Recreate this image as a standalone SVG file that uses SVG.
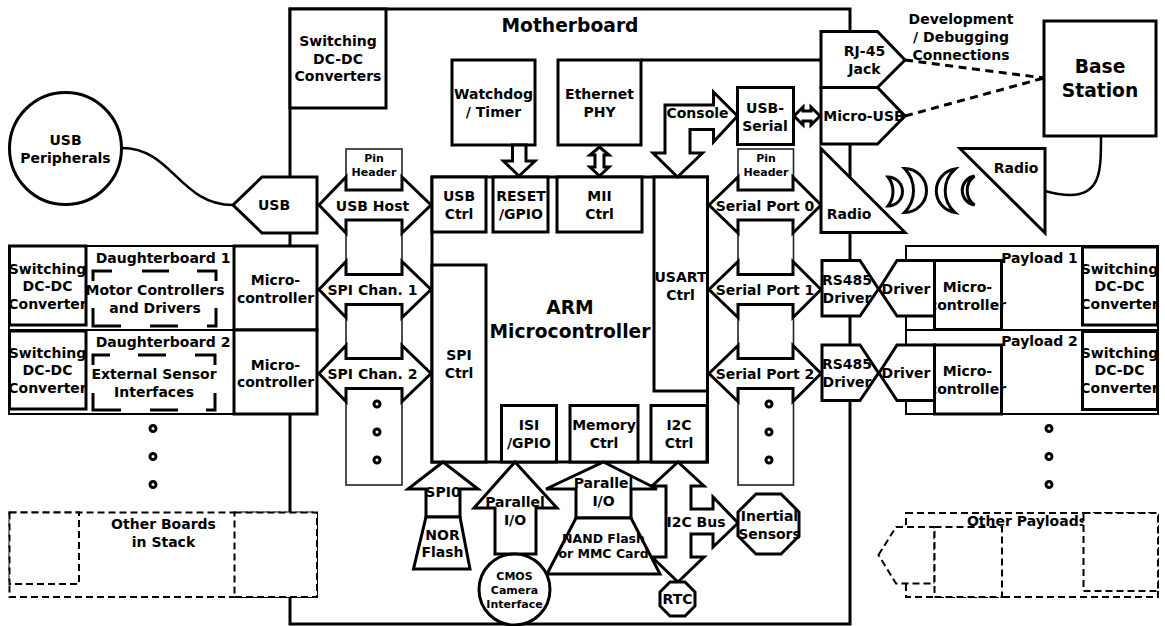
<svg xmlns="http://www.w3.org/2000/svg" width="1165" height="626" viewBox="0 0 1165 626">
<style>
text{font-family:"DejaVu Sans","Liberation Sans",sans-serif;font-weight:bold;font-size:14px;text-anchor:middle;fill:#000}
.s{font-size:11px}.l{font-size:18.7px}.m{font-size:12.5px}
.b{fill:#fff;stroke:#000;stroke-width:3}
.t{fill:#fff;stroke:#000;stroke-width:2}
.h{fill:#fff;stroke:#222;stroke-width:1.6}
.d{fill:#fff;stroke:#000;stroke-width:2;stroke-dasharray:7 4}
.n{fill:none;stroke:#000;stroke-width:3}
.c{fill:none;stroke:#000;stroke-width:2.5}
.dl{fill:none;stroke:#000;stroke-width:3;stroke-dasharray:8 5.5}
.dot{fill:#fff;stroke:#000;stroke-width:3}
</style>
<rect id="background" width="1165" height="626" fill="#fff"/>

<g id="motherboard">
  <rect class="b" x="290" y="9" width="560" height="615"/>
  <text class="l" x="570" y="32">Motherboard</text>
</g>
<g id="dcdc-main">
  <rect class="b" x="290" y="9" width="96" height="99"/>
  <text x="338"><tspan x="338" y="46">Switching</tspan><tspan x="338" y="63.5">DC-DC</tspan><tspan x="338" y="81">Converters</tspan></text>
</g>
<g id="watchdog">
  <rect class="b" x="452" y="60" width="83" height="85"/>
  <text><tspan x="493.5" y="99">Watchdog</tspan><tspan x="493.5" y="116.5">/ Timer</tspan></text>
</g>
<g id="ethernet-phy">
  <rect class="b" x="558" y="60" width="83" height="85"/>
  <text><tspan x="599.5" y="99">Ethernet</tspan><tspan x="599.5" y="116.5">PHY</tspan></text>
</g>

<g id="pin-header-left">
  <rect class="h" x="346" y="149" width="56" height="336"/>
  <text class="s"><tspan x="374" y="162">Pin</tspan><tspan x="374" y="175.5">Header</tspan></text>
  <circle class="dot" cx="377" cy="404" r="3"/><circle class="dot" cx="377" cy="432" r="3"/><circle class="dot" cx="377" cy="460" r="3"/>
</g>
<g id="pin-header-right">
  <rect class="h" x="738" y="149" width="55.5" height="336"/>
  <text class="s"><tspan x="766" y="162">Pin</tspan><tspan x="766" y="175.5">Header</tspan></text>
  <circle class="dot" cx="769" cy="404" r="3"/><circle class="dot" cx="769" cy="432" r="3"/><circle class="dot" cx="769" cy="460" r="3"/>
</g>

<g id="arm-microcontroller">
  <rect class="b" x="432" y="177" width="275.5" height="285"/>
  <text class="l"><tspan x="570" y="314">ARM</tspan><tspan x="570" y="338">Microcontroller</tspan></text>
</g>
<g id="usb-ctrl"><rect class="b" x="432" y="177" width="54" height="55"/><text><tspan x="459" y="201">USB</tspan><tspan x="459" y="218.5">Ctrl</tspan></text></g>
<g id="reset-gpio"><rect class="b" x="493" y="177" width="55" height="55"/><text><tspan x="521" y="201">RESET</tspan><tspan x="521" y="218.5">/GPIO</tspan></text></g>
<g id="mii-ctrl"><rect class="b" x="557" y="177" width="85" height="55"/><text><tspan x="599.5" y="201">MII</tspan><tspan x="599.5" y="218.5">Ctrl</tspan></text></g>
<g id="usart-ctrl"><rect class="b" x="654" y="177" width="53.5" height="214"/><text><tspan x="680.5" y="282">USART</tspan><tspan x="680.5" y="299.5">Ctrl</tspan></text></g>
<g id="spi-ctrl"><rect class="b" x="432" y="265" width="54" height="197"/><text><tspan x="459" y="360">SPI</tspan><tspan x="459" y="377.5">Ctrl</tspan></text></g>
<g id="isi-gpio"><rect class="b" x="501.5" y="405.5" width="55" height="56.5"/><text><tspan x="529" y="430">ISI</tspan><tspan x="529" y="447.5">/GPIO</tspan></text></g>
<g id="memory-ctrl"><rect class="b" x="570" y="405.5" width="68" height="56.5"/><text><tspan x="604" y="430">Memory</tspan><tspan x="604" y="447.5">Ctrl</tspan></text></g>
<g id="i2c-ctrl"><rect class="b" x="651" y="405.5" width="56" height="56.5"/><text><tspan x="679" y="430">I2C</tspan><tspan x="679" y="447.5">Ctrl</tspan></text></g>

<g id="connectors">
  <path class="n" d="M641 60H821"/>
  <path class="c" d="M122 148C172 148 180 205 233 205"/>
  <path class="dl" d="M905 60L1044 78"/>
  <path class="dl" d="M905 116L1044 78"/>
  <path class="c" d="M1101 136C1101 170 1101 195 1070 195C1060 195 1052 193 1045 191"/>
  <polygon class="b" points="319,205 346,177 346,190 402,190 402,177 431,205 402,233 402,220 346,220 346,233"/>
  <text x="372.5" y="210.5">USB Host</text>
  <polygon class="b" points="319,289.5 346,261.5 346,274.5 402,274.5 402,261.5 431,289.5 402,317.5 402,304.5 346,304.5 346,317.5"/>
  <text x="372.5" y="295">SPI Chan. 1</text>
  <polygon class="b" points="319,373.5 346,345.5 346,358.5 402,358.5 402,345.5 431,373.5 402,401.5 402,388.5 346,388.5 346,401.5"/>
  <text x="372.5" y="379">SPI Chan. 2</text>
  <polygon class="b" points="709,205 738,177 738,190 793,190 793,177 821,205 793,233 793,220 738,220 738,233"/>
  <text x="765" y="210.5">Serial Port 0</text>
  <polygon class="b" points="709,289.5 738,261.5 738,274.5 793,274.5 793,261.5 821,289.5 793,317.5 793,304.5 738,304.5 738,317.5"/>
  <text x="765" y="295">Serial Port 1</text>
  <polygon class="b" points="709,373.5 738,345.5 738,358.5 793,358.5 793,345.5 821,373.5 793,401.5 793,388.5 738,388.5 738,401.5"/>
  <text x="765" y="379">Serial Port 2</text>
  <polygon class="b" points="512.5,145 526,145 526,161 535,161 519,176 503.5,161 512.5,161"/>
  <polygon class="b" points="599.5,147 609,155 604,155 604,167 609,167 599.5,176 590,167 595,167 595,155 590,155"/>
  <polygon class="b" points="794,116 803,107 803,111 811,111 811,107 820,116 811,125 811,121 803,121 803,125"/>
  <polygon class="b" points="737.5,116 713.5,92 713.5,105 665,105 665,153 653,153 677.5,177 702.5,153 690,153 690,129.5 713.5,129.5 713.5,142"/>
  <text x="697.5" y="118">Console</text>
  <polygon class="b" points="443,462 478,489 460,489 460,517 426,517 426,489 408,489"/>
  <text x="443" y="497">SPI0</text>
  <polygon class="b" points="515,462 557,508 536,508 536,554 495,554 495,508 474,508"/>
  <text><tspan x="515" y="507">Parallel</tspan><tspan x="515" y="525">I/O</tspan></text>
  <polygon class="b" points="678,462 704,486 691,486 691,509 713,509 713,497 738,523 713,547 713,534 691,534 691,557 704,557 678,582 652,557 666,557 666,486 652,486"/>
  <text x="696" y="527">I2C Bus</text>
  <polygon class="b" points="603.5,462 657,489 631,489 631,518 576,518 576,489 546,489"/>
  <text><tspan x="603.5" y="487.5">Parallel</tspan><tspan x="603.5" y="505.5">I/O</tspan></text>
</g>

<g id="usb-peripherals"><circle class="b" cx="65.5" cy="148.5" r="56"/><text><tspan x="65.5" y="145">USB</tspan><tspan x="65.5" y="162.5">Peripherals</tspan></text></g>
<g id="usb-connector"><polygon class="b" points="233,205 262,177 317,177 317,233 262,233"/><text x="274" y="210">USB</text></g>

<g id="daughterboard-1">
  <rect class="t" x="9" y="246" width="308" height="84"/>
  <rect class="b" x="234" y="246" width="83" height="84"/>
  <rect class="b" x="9.5" y="246" width="76.5" height="79"/>
  <path class="n" d="M93 281V271H112M142 271H169M197 271H216V281M216 308V326H207M178 326H150M121 326H93V308"/>
  <text x="163" y="263">Daughterboard 1</text>
  <text><tspan x="155" y="295">Motor Controllers</tspan><tspan x="155" y="312.5">and Drivers</tspan></text>
  <text><tspan x="275.5" y="285">Micro-</tspan><tspan x="275.5" y="302.5">controller</tspan></text>
  <text><tspan x="47.5" y="273.5">Switching</tspan><tspan x="47.5" y="291">DC-DC</tspan><tspan x="47.5" y="308.5">Converter</tspan></text>
</g>
<g id="daughterboard-2">
  <rect class="t" x="9" y="330" width="308" height="84"/>
  <rect class="b" x="234" y="330" width="83" height="84"/>
  <rect class="b" x="9.5" y="331" width="76.5" height="78"/>
  <path class="n" d="M93 365V355H110M138 355H166M195 355H215V365M215 393V410H206M178 410H150M121 410H93V393"/>
  <text x="163" y="347">Daughterboard 2</text>
  <text><tspan x="154" y="379">External Sensor</tspan><tspan x="154" y="396.5">Interfaces</tspan></text>
  <text><tspan x="275.5" y="369.5">Micro-</tspan><tspan x="275.5" y="387">controller</tspan></text>
  <text><tspan x="47.5" y="357.5">Switching</tspan><tspan x="47.5" y="375">DC-DC</tspan><tspan x="47.5" y="392.5">Converter</tspan></text>
</g>
<g id="stack-dots">
  <circle class="dot" cx="153" cy="428.5" r="3"/><circle class="dot" cx="153" cy="456.5" r="3"/><circle class="dot" cx="153" cy="484.5" r="3"/>
</g>
<g id="other-boards">
  <rect class="d" x="9.5" y="512.5" width="307.5" height="84.5"/>
  <rect class="d" x="9.5" y="512.5" width="69.5" height="71.5"/>
  <rect class="d" x="234.5" y="512.5" width="82.5" height="84.5"/>
  <text><tspan x="163.5" y="529">Other Boards</tspan><tspan x="163.5" y="546.5">in Stack</tspan></text>
</g>

<g id="nor-flash"><polygon class="b" points="426,517 460,517 470,569 413.5,569"/><text><tspan x="442.5" y="539.5">NOR</tspan><tspan x="442.5" y="557">Flash</tspan></text></g>
<g id="nand-flash"><polygon class="b" points="576,518 631,518 660,574 547,574"/><text class="m"><tspan x="603.5" y="542.5">NAND Flash</tspan><tspan x="603.5" y="558">or MMC Card</tspan></text></g>
<g id="cmos-camera"><circle class="b" cx="514.5" cy="589.5" r="35.5"/><text class="s"><tspan x="514.5" y="580">CMOS</tspan><tspan x="514.5" y="594">Camera</tspan><tspan x="514.5" y="607.5">Interface</tspan></text></g>
<g id="inertial-sensors"><polygon class="b" points="756,494 781,494 799,512 799,536 781,554 756,554 738,536 738,512"/><text><tspan x="769.5" y="521">Inertial</tspan><tspan x="769.5" y="539">Sensors</tspan></text></g>
<g id="rtc"><polygon class="b" points="670,582 685,582 695,592 695,606 685,616 670,616 660,606 660,592"/><text x="677.5" y="604">RTC</text></g>

<g id="usb-serial"><rect class="b" x="737.5" y="87.5" width="56" height="57"/><text><tspan x="765" y="113">USB-</tspan><tspan x="765" y="130.5">Serial</tspan></text></g>
<g id="rj45"><polygon class="b" points="821,31.5 877.5,31.5 905,60 877.5,87.5 821,87.5"/><text><tspan x="864.5" y="56">RJ-45</tspan><tspan x="864.5" y="74">Jack</tspan></text></g>
<g id="micro-usb"><polygon class="b" points="821,87.5 877.5,87.5 905,116 877.5,144 821,144"/><text x="864" y="121">Micro-USB</text></g>
<g id="debug-label"><text><tspan x="961" y="23.5">Development</tspan><tspan x="961" y="41.5">/ Debugging</tspan><tspan x="961" y="59.5">Connections</tspan></text></g>
<g id="base-station"><rect class="b" x="1044" y="21" width="112" height="115"/><text class="l"><tspan x="1100" y="73">Base</tspan><tspan x="1100" y="97">Station</tspan></text></g>
<g id="radio-left"><polygon class="b" points="821,148.5 821,232.5 905,232.5"/><text x="849" y="218.5">Radio</text></g>
<g id="radio-right"><polygon class="b" points="960,148.5 1045,148.5 1045,233"/><text x="1016" y="172.5">Radio</text></g>
<g id="radio-waves">
  <path class="b" d="M888 177A14.5 14.5 0 0 1 888 206A23.5 23.5 0 0 0 888 177Z"/>
  <path class="b" d="M904.5 168.500A22 22 0 0 1 904.5 212.5A31.4 31.4 0 0 0 904.5 168.5Z"/>
  <path class="b" d="M955 169A22 22 0 0 0 955 212.5A29 29 0 0 1 955 169Z"/>
  <path class="b" d="M974.5 176A14.7 14.7 0 0 0 974.5 205A18 18 0 0 1 974.5 176Z"/>
</g>

<g id="rs485-1"><polygon class="b" points="822,260.5 860,260.5 878.5,289 860,316 822,316"/><text><tspan x="847" y="285">RS485</tspan><tspan x="847" y="302.5">Driver</tspan></text></g>
<g id="rs485-2"><polygon class="b" points="822,345 860,345 878.5,373 860,400.5 822,400.5"/><text><tspan x="847" y="369">RS485</tspan><tspan x="847" y="386.5">Driver</tspan></text></g>

<g id="payload-1">
  <rect class="t" x="906" y="246" width="252" height="84"/>
  <rect class="b" x="934.5" y="260.5" width="67" height="69"/>
  <text><tspan x="967.5" y="292">Micro-</tspan><tspan x="967.5" y="309.5">controller</tspan></text>
  <polygon class="b" points="879,289 897,260.5 934.5,260.5 934.5,316 897,316"/>
  <text x="906" y="294">Driver</text>
  <rect class="b" x="1082.5" y="247" width="75" height="78"/>
  <text x="1039.5" y="262.5">Payload 1</text>
  <text><tspan x="1119.5" y="273.5">Switching</tspan><tspan x="1119.5" y="291">DC-DC</tspan><tspan x="1119.5" y="308.5">Converter</tspan></text>
</g>
<g id="payload-2">
  <rect class="t" x="906" y="330" width="252" height="84"/>
  <rect class="b" x="934.5" y="345" width="67" height="69"/>
  <text><tspan x="967.5" y="376">Micro-</tspan><tspan x="967.5" y="393.5">controller</tspan></text>
  <polygon class="b" points="879,373 897,345 934.5,345 934.5,400.5 897,400.5"/>
  <text x="906" y="378">Driver</text>
  <rect class="b" x="1082.5" y="331.5" width="75" height="78"/>
  <text x="1039.5" y="346">Payload 2</text>
  <text><tspan x="1119.5" y="357.5">Switching</tspan><tspan x="1119.5" y="375">DC-DC</tspan><tspan x="1119.5" y="392.5">Converter</tspan></text>
</g>
<g id="payload-dots">
  <circle class="dot" cx="1049" cy="428.5" r="3"/><circle class="dot" cx="1049" cy="456.5" r="3"/><circle class="dot" cx="1049" cy="484.5" r="3"/>
</g>
<g id="other-payloads">
  <rect class="d" x="906" y="513" width="252" height="84"/>
  <polygon class="d" points="878.5,555 896,527 934.5,527 934.5,583.5 896,583.5"/>
  <rect class="d" x="934.5" y="527" width="67.5" height="70"/>
  <text x="1027" y="526">Other Payloads</text>
  <rect class="d" x="1083.5" y="513" width="74.5" height="78"/>
</g>
</svg>
